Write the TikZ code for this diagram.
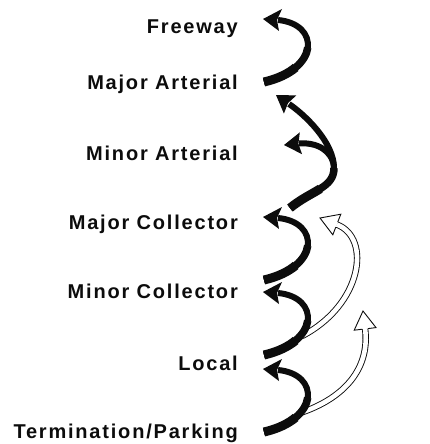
\documentclass[tikz,border=0pt]{standalone}
\usepackage{fontspec}
\setmainfont{Liberation Sans}
\newfontfamily\labfont{Liberation Sans}[LetterSpace=9]
\definecolor{ink}{RGB}{12,12,12}
\tikzset{
  lab/.style={anchor=base east, inner sep=0pt, text=ink, font=\labfont\bfseries\fontsize{20}{24}\selectfont},
  shaft/.style={draw=ink, line width=6pt, line cap=butt},
  shaftmid/.style={draw=ink, line width=7.5pt, line cap=butt},
  shafttail/.style={draw=ink, line width=9pt, line cap=butt},
  solidhead/.style={fill=ink},
  hshaft/.style={draw=ink, line width=0.9pt, double=white, double distance=4.6pt},
  hline/.style={draw=ink, line width=0.9pt, line join=miter}
}
\begin{document}
\begin{tikzpicture}[x=1pt,y=-1pt]
\useasboundingbox[fill=white] (0,0) rectangle (430,444);
% labels
\node[lab] (fw) at (238,34) {Freeway};
\node[lab] (ma) at (238,89) {Major Arterial};
\node[lab] (mi) at (238,160) {Minor Arterial};
\node[lab] (mc) at (238,229) {Major Collector};
\node[lab] (nc) at (238,298) {Minor Collector};
\node[lab] (lo) at (238,370) {Local};
\node[lab] (tp) at (238,438) {Termination/Parking};
% hollow arrow 1 (from Local arrow up to Major Collector)
\coordinate (s1) at (302,336); \coordinate (b1) at (336.8,224.5);
\coordinate (e1) at (320,218);
\draw[hshaft] (s1) .. controls (362,305) and (372,238) .. (b1);
\fill[white] (340.8,214.2) -- (e1) -- (332.8,234.8) -- cycle;
\draw[hline] (337.8,221.9) -- (340.8,214.2) -- (e1) -- (332.8,234.8) -- (335.8,227.1);
% hollow arrow 2 (from Termination arrow up to Minor Collector)
\coordinate (s2) at (300,413); \coordinate (b2) at (365.1,328.9);
\coordinate (e2) at (363,311);
\draw[hshaft] (s2) .. controls (345,398) and (370,368) .. (b2);
\fill[white] (354.2,330.2) -- (e2) -- (376.0,327.6) -- cycle;
\draw[hline] (362.4,329.2) -- (354.2,330.2) -- (e2) -- (376.0,327.6) -- (367.8,328.6);
% S-shaped arrows (one per level), tapered towards the head
\foreach \n/\y in {1/19, 4/217, 5/292, 6/369}{
  \coordinate (t\n) at (264,\y+63);
  \coordinate (b\n) at (278,\y+1);
  \coordinate (h\n) at (263,\y);
  \path[shaft] (t\n) .. controls (320,\y+50) and (320,\y+5) .. (b\n);
  \path[shaftmid] (t\n) .. controls (292,\y+56.5) and (306,\y+42) .. (307.75,\y+28.6);
  \path[shafttail] (t\n) .. controls (278,\y+59.75) and (288.5,\y+54.5) .. (295.7,\y+48.4);
  \fill[solidhead] (h\n) -- (282,\y-10) -- (277,\y+1) -- (279,\y+12) -- cycle;
}
% long arrow Major Collector -> Major Arterial, with branch to Minor Arterial
\coordinate (t2) at (290,208); \coordinate (m2) at (334,168);
\coordinate (b2h) at (289,104); \coordinate (h2) at (276,95);
\path[shaft] (t2) .. controls (312,190) and (334,188) .. (m2) .. controls (334,142) and (304,114) .. (b2h);
\path[shaftmid] (t2) .. controls (312,190) and (334,188) .. (m2);
\path[shafttail] (t2) .. controls (301,199) and (312,194) .. (320.25,188.75);
\fill[solidhead] (h2) -- (296.3,95.4) -- (288,103.1) -- (283.9,113.6) -- cycle;
\coordinate (b3) at (299,143.5); \coordinate (h3) at (284,145);
\path[shaft] (m2) .. controls (333,150) and (316,142) .. (b3);
\fill[solidhead] (h3) -- (299.8,132.4) -- (298.4,143.6) -- (302,154.2) -- cycle;
\end{tikzpicture}
\end{document}
